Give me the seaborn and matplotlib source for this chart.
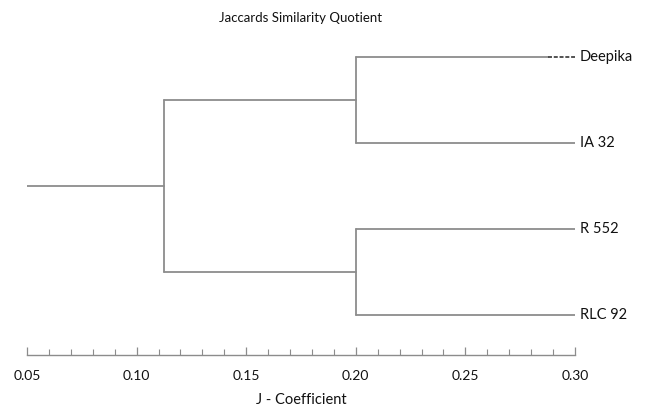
import pandas as pd
import seaborn as sns
import matplotlib.pyplot as plt
from matplotlib.ticker import MultipleLocator

# Leaves from bottom to top, and the merges (left, right, J-coefficient)
leaves = ['RLC 92', 'R 552', 'IA 32', 'Deepika']
leaf_height = 0.30
merges = [
    ('IA 32', 'Deepika', 0.20),
    ('RLC 92', 'R 552', 0.20),
    ('m0', 'm1', 0.1125),
]
root_start = 0.05

sns.set_theme(style='white')
plt.rcParams['font.family'] = ['Lato', 'DejaVu Sans']

# Build the dendrogram segments from the merge table
pos = {name: (leaf_height, i) for i, name in enumerate(leaves)}
rows = []
seg = 0
for k, (a, b, h) in enumerate(merges):
    xa, ya = pos[a]
    xb, yb = pos[b]
    for x0, y0, x1, y1 in [(xa, ya, h, ya), (h, ya, h, yb), (xb, yb, h, yb)]:
        rows.append({'seg': seg, 'x': x0, 'y': y0})
        rows.append({'seg': seg, 'x': x1, 'y': y1})
        seg += 1
    pos['m%d' % k] = (h, (ya + yb) / 2)
rx, ry = pos['m%d' % (len(merges) - 1)]
rows.append({'seg': seg, 'x': root_start, 'y': ry})
rows.append({'seg': seg, 'x': rx, 'y': ry})
segments = pd.DataFrame(rows)

# Deepika branch ends with a short dashed piece
dash_from = 0.2875
dy = pos['Deepika'][1]
segments.loc[(segments.y == dy) & (segments.x == leaf_height), 'x'] = dash_from

fig = plt.figure(figsize=(6.54, 4.16), dpi=100)
ax = fig.add_axes([27 / 654, 61 / 416, 548 / 654, 315 / 416])

sns.lineplot(data=segments, x='x', y='y', units='seg', estimator=None,
             sort=False, color='#8c8c8c', linewidth=1.3, ax=ax, legend=False)
ax.plot([dash_from, leaf_height], [dy, dy], color='#444444', linewidth=1.3,
        linestyle=(0, (2.2, 1.0)), clip_on=False)

for name in leaves:
    ax.text(leaf_height + 0.0022, pos[name][1], name, va='center', ha='left',
            fontsize=10.5, color='#111111', clip_on=False)

ax.set_xlim(0.05, 0.30)
ax.set_ylim(-0.465, 3.2)
ax.set_xticks([0.05, 0.10, 0.15, 0.20, 0.25, 0.30])
ax.set_xticklabels(['0.05', '0.10', '0.15', '0.20', '0.25', '0.30'])
ax.xaxis.set_minor_locator(MultipleLocator(0.01))
ax.set_yticks([])
for side in ['top', 'right', 'left']:
    ax.spines[side].set_visible(False)
ax.spines['bottom'].set_color('#8c8c8c')
ax.spines['bottom'].set_linewidth(1.0)
ax.tick_params(axis='x', which='major', direction='in', length=6, width=0.9,
               color='#8c8c8c', labelsize=10, pad=11, bottom=True,
               labelcolor='#111111')
ax.tick_params(axis='x', which='minor', direction='in', length=4, width=0.8,
               color='#8c8c8c', bottom=True)
ax.set_xlabel('J - Coefficient', fontsize=10.5, labelpad=8, color='#111111')
ax.set_ylabel('')

fig.text(301 / 654, 1 - 18 / 416, 'Jaccards Similarity Quotient', ha='center',
         va='center', fontsize=9.5, color='#111111')

fig.savefig('out.png', dpi=100)
